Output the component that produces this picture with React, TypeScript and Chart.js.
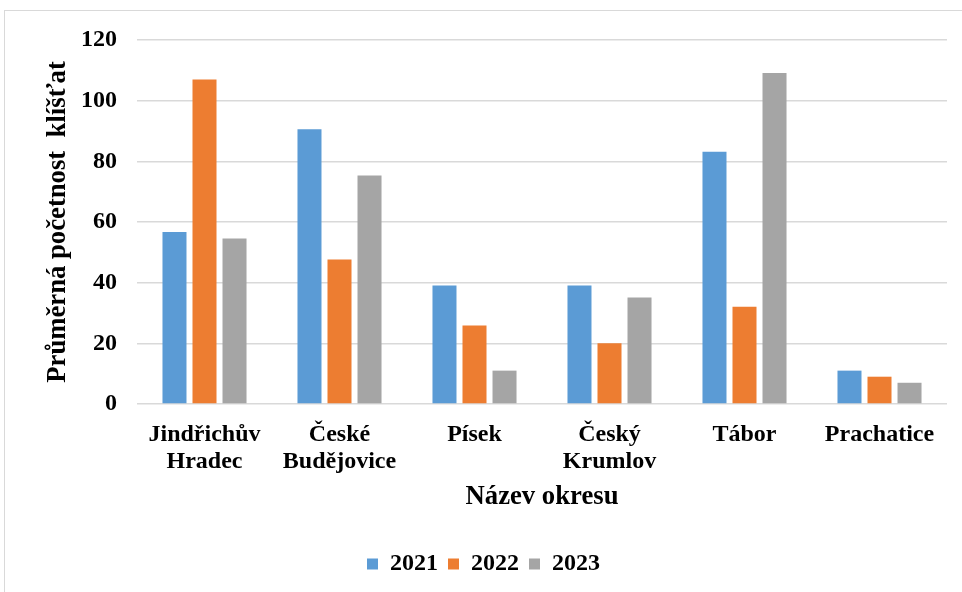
import React, { useEffect, useRef } from "react";
import { Chart, registerables } from "chart.js";

Chart.register(...registerables);

const categories: string[][] = [
  ["Jindřichův", "Hradec"],
  ["České", "Budějovice"],
  ["Písek"],
  ["Český", "Krumlov"],
  ["Tábor"],
  ["Prachatice"],
];
const seriesLabels = ["2021", "2022", "2023"];
const values2021 = [56.7, 90.6, 39.1, 39.1, 83.2, 11];
const values2022 = [107, 47.6, 25.9, 20, 32.1, 9];
const values2023 = [54.6, 75.3, 11, 35.1, 109.1, 7];
const yTicks = [0, 20, 40, 60, 80, 100, 120];
const yTitle = "Průměrná početnost  klíšťat";
const xTitle = "Název okresu";

const colors = ["#5B9BD5", "#ED7D31", "#A5A5A5"];
const FONT = "'Liberation Serif', 'Times New Roman', serif";

export default function App() {
  const ref = useRef<HTMLCanvasElement | null>(null);

  useEffect(() => {
    const canvas = ref.current;
    if (!canvas) return;
    const chart = new Chart(canvas, {
      type: "bar",
      data: {
        labels: categories,
        datasets: [values2021, values2022, values2023].map((d, i) => ({
          label: seriesLabels[i],
          data: d,
          backgroundColor: colors[i],
          borderWidth: 0,
          categoryPercentage: 0.667,
          barPercentage: 0.8,
        })),
      },
      options: {
        animation: false,
        responsive: false,
        maintainAspectRatio: false,
        layout: { padding: { left: 20, top: 40, right: 15, bottom: 6 } },
        plugins: {
          tooltip: { enabled: false },
          legend: {
            display: true,
            position: "bottom",
            labels: {
              boxWidth: 11,
              boxHeight: 11,
              padding: 10,
              color: "#000",
              font: { family: FONT, size: 24, weight: "bold" },
            },
          },
        },
        scales: {
          x: {
            grid: { display: false },
            border: { display: false },
            ticks: {
              color: "#000",
              autoSkip: false,
              maxRotation: 0,
              minRotation: 0,
              padding: 9,
              font: { family: FONT, size: 24, weight: "bold", lineHeight: 1.12 },
            },
            title: {
              display: true,
              text: xTitle,
              color: "#000",
              padding: { top: 0, bottom: 29 },
              font: { family: FONT, size: 26.7, weight: "bold", lineHeight: 1.2 },
            },
            afterFit: (scale: any) => {
              scale.height = 138;
            },
          },
          y: {
            min: 0,
            max: 120,
            afterBuildTicks: (scale: any) => {
              scale.ticks = yTicks.map((v) => ({ value: v }));
            },
            grid: { color: "#d9d9d9", lineWidth: 1.5, drawTicks: false },
            border: { display: false },
            ticks: {
              color: "#000",
              padding: 20,
              font: { family: FONT, size: 24, weight: "bold" },
            },
            title: {
              display: true,
              text: yTitle,
              color: "#000",
              padding: { top: 22, bottom: 0 },
              font: { family: FONT, size: 26.7, weight: "bold", lineHeight: 1.2 },
            },
            afterFit: (scale: any) => {
              scale.width = 117;
            },
          },
        },
      },
    });
    return () => chart.destroy();
  }, []);

  return (
    <div
      style={{
        position: "fixed",
        left: 0,
        top: 0,
        width: 962,
        height: 592,
        overflow: "hidden",
        background: "#fff",
      }}
    >
      <div
        style={{
          position: "absolute",
          left: 4,
          top: 10,
          width: 1000,
          height: 700,
          border: "1.5px solid #d9d9d9",
          boxSizing: "border-box",
        }}
      />
      <canvas
        ref={ref}
        width={962}
        height={592}
        style={{ position: "absolute", left: 0, top: 0, width: 962, height: 592 }}
      />
    </div>
  );
}
